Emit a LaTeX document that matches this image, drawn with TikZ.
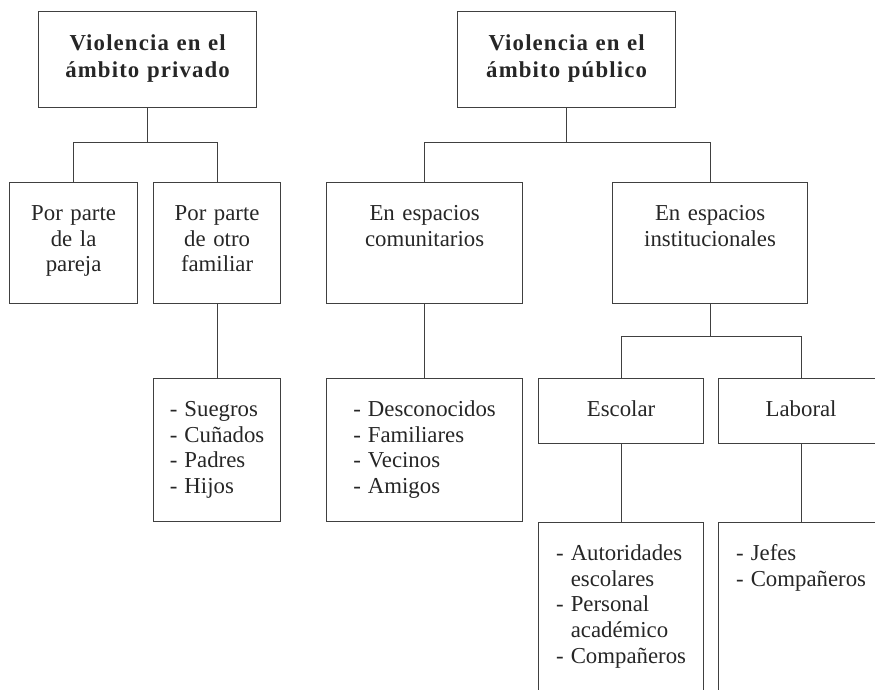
\documentclass[tikz,border=0pt]{standalone}
\usepackage{fontspec}
\setmainfont{Liberation Serif}
\newfontfamily\titlefont{Liberation Serif}[LetterSpace=5]
\usetikzlibrary{calc}

\begin{document}
\begin{tikzpicture}[x=0.5pt, y=-0.5pt,
    caja/.style={draw=black!75, line width=0.6pt, anchor=north west, inner sep=0pt,
      align=center, text=black!85, text height=19pt,
      font=\fontsize{11.4}{12.85}\selectfont},
    titulo/.style={caja, text height=19.5pt, font={\titlefont\bfseries\fontsize{11.4}{13.35}\selectfont}},
    linea/.style={draw=black!75, line width=0.6pt}]
  \useasboundingbox (0,0) rectangle (875,690);
  \clip (0,0) rectangle (875,690);

  \node (priv) [titulo, text width=109pt, text depth=28.5pt] at (38,11) {Violencia en el\\ámbito privado};
  \node (pub) [titulo, text width=109pt, text depth=28.5pt] at (457,11) {Violencia en el\\ámbito público};

  \node (pareja) [caja, text width=64pt, text depth=41.5pt] at (9,182) {Por parte\\de la\\pareja};
  \node (otro) [caja, text width=63.5pt, text depth=41.5pt] at (153,182) {Por parte\\de otro\\familiar};
  \node (comun) [caja, text width=98pt, text depth=41.5pt] at (326,182) {En espacios\\comunitarios};
  \node (inst) [caja, text width=97.5pt, text depth=41.5pt] at (612,182) {En espacios\\institucionales};

  \node (suegros) [caja, text width=63.5pt, text depth=52.5pt] at (153,378)
    {\begin{tabular}[t]{@{}l@{\hspace{3.5pt}}l@{}}-&Suegros\\-&Cuñados\\-&Padres\\-&Hijos\end{tabular}};
  \node (descon) [caja, text width=98pt, text depth=52.5pt] at (326,378)
    {\begin{tabular}[t]{@{}l@{\hspace{3.5pt}}l@{}}-&Desconocidos\\-&Familiares\\-&Vecinos\\-&Amigos\end{tabular}};
  \node (escolar) [caja, text width=82.5pt, text depth=13.5pt] at (538,378) {Escolar};
  \node (laboral) [caja, text width=82.5pt, text depth=13.5pt] at (718,378) {Laboral};

  \node (autor) [caja, text width=82.5pt, text depth=81pt] at (538,522)
    {\begin{tabular}[t]{@{}l@{\hspace{3.5pt}}l@{}}-&Autoridades\\&escolares\\-&Personal\\&académico\\-&Compañeros\end{tabular}};
  \node (jefes) [caja, text width=82.5pt, text depth=81pt] at (718,522)
    {\begin{tabular}[t]{@{}l@{\hspace{3.5pt}}l@{}}-&Jefes\\-&Compañeros\end{tabular}};

  \draw[linea] (priv.south) -- ++(0,34) coordinate (jp);
  \draw[linea] (pareja.north) |- (jp) -| (otro.north);
  \draw[linea] (pub.south) -- ++(0,34) coordinate (jq);
  \draw[linea] (comun.north) |- (jq) -| (inst.north);
  \draw[linea] (otro.south) -- (suegros.north);
  \draw[linea] (comun.south) -- (descon.north);
  \draw[linea] (inst.south) -- ++(0,32) coordinate (ji);
  \draw[linea] (escolar.north) |- (ji) -| (laboral.north);
  \draw[linea] (escolar.south) -- (autor.north);
  \draw[linea] (laboral.south) -- (jefes.north);
\end{tikzpicture}
\end{document}
